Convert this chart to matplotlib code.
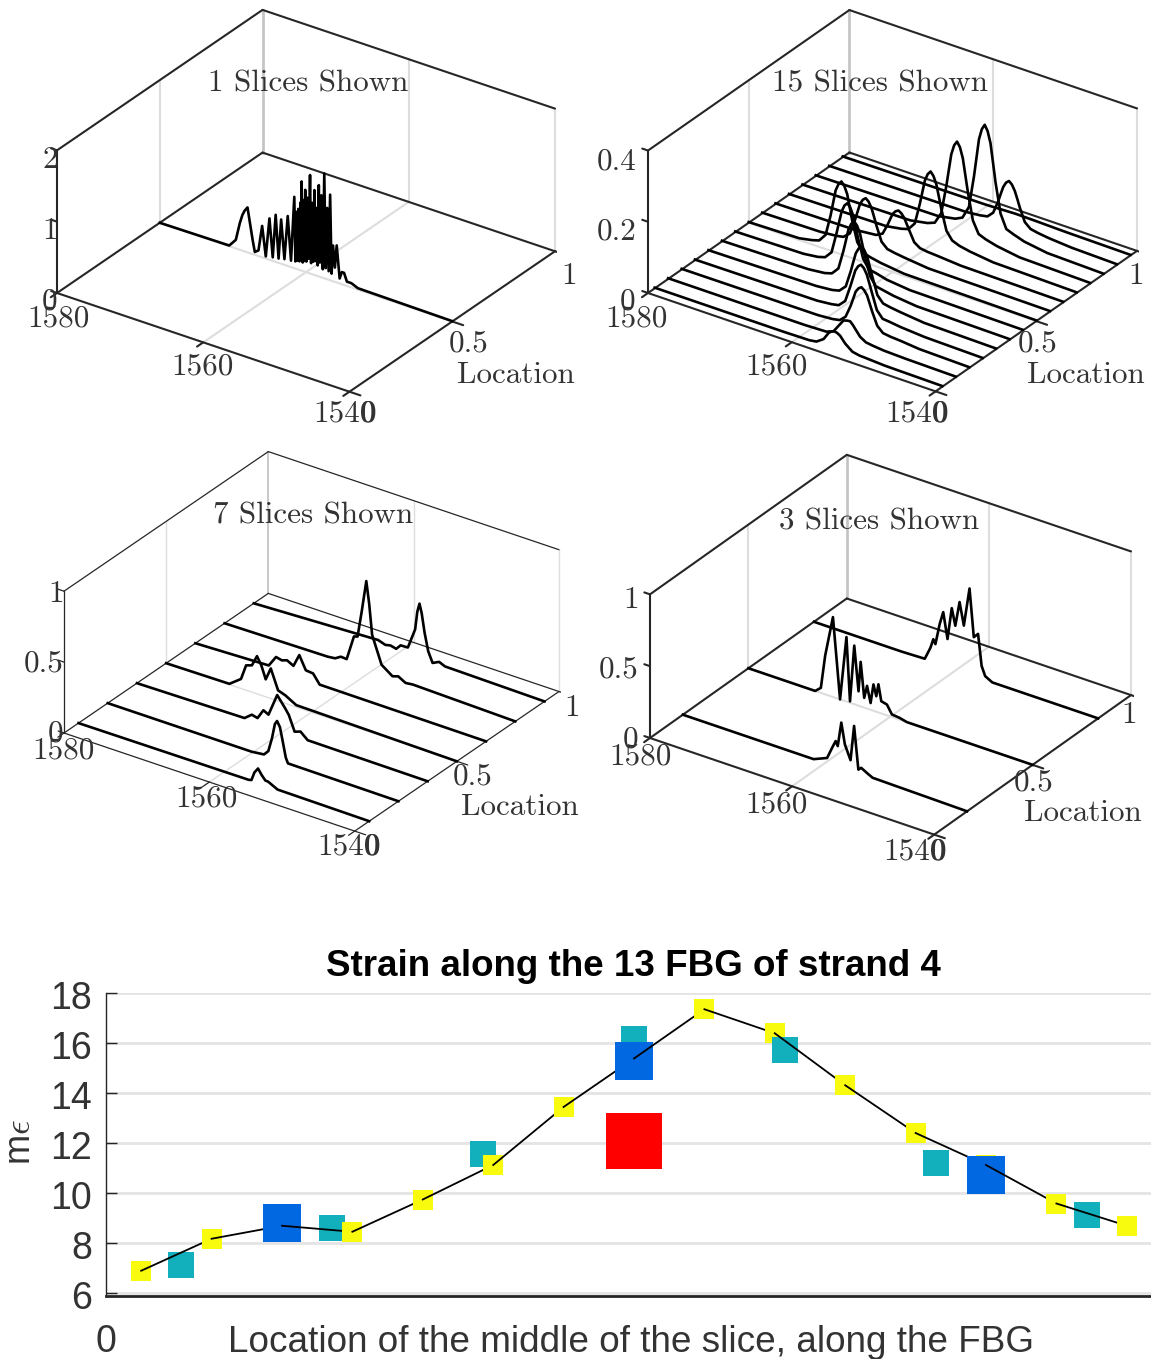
import numpy as np
import matplotlib
matplotlib.use('Agg')
import matplotlib.pyplot as plt
from matplotlib.transforms import ScaledTranslation
from mpl_toolkits.mplot3d import proj3d

W, H = 1151, 1359
DARK = '#262626'
TICK_TXT = '#333333'

# panel 1: 1 slice
LOCS_1 = [0.5]
WAVES_1 = [[1580, 1570.5, 1569.6, 1569.05, 1568.7, 1568.4, 1568, 1567.7, 1567.3, 1567, 1566.5, 1566, 1565.5, 1565, 1564.55,
            1564.15, 1563.75, 1563.4, 1562.95, 1562.5, 1562.05, 1561.6, 1561.45, 1561.3, 1561.15, 1561.05, 1560.9,
            1560.75, 1560.65, 1560.6, 1560.45, 1560.3, 1560.2, 1560.1, 1559.95, 1559.8, 1559.65, 1559.45, 1559.3,
            1559.15, 1559, 1558.85, 1558.7, 1558.55, 1558.4, 1558.25, 1558.1, 1557.9, 1557.7, 1557.5, 1557.3,
            1557.1, 1556.9, 1556.7, 1556.5, 1556.3, 1556.05, 1555.8, 1555.4, 1555.1, 1554.8, 1554.4, 1553.8, 1552.9, 1540]]
AMPS_1 = [[0.0, 0.01, 0.12, 0.375, 0.5, 0.57, 0.63, 0.445, 0.2, 0.04, 0.08, 0.44, 0.03, 0.58, 0.05,
           0.66, 0.06, 0.62, 0.08, 0.70, 0.09, 1.0, 0.1, 0.8, 0.12, 0.85, 0.12,
           0.95, 0.15, 1.25, 0.12, 1.0, 0.15, 1.15, 0.15, 1.05, 0.2, 1.38, 0.15,
           1.0, 0.18, 1.19, 0.2, 0.95, 0.15, 1.28, 0.2, 1.15, 0.12, 1.47, 0.15,
           1.0, 0.12, 1.2, 0.1, 0.5, 0.2, 0.52, 0.07, 0.17, 0.17, 0.06, 0.06, 0.02, 0.005]]

# panel 2: 15 slices
LOCS_2 = [0.033, 0.1, 0.167, 0.233, 0.3, 0.367, 0.433, 0.5, 0.567, 0.633, 0.7, 0.767, 0.833, 0.9, 0.967]
WAVES_2 = [
    [1580, 1562, 1558.5, 1557.5, 1556.5, 1555.8, 1555.4, 1555, 1554.6, 1554.2, 1553.5, 1552.5, 1551.5, 1550.5, 1548, 1540],
    [1580, 1561, 1558, 1557, 1556.2, 1555.6, 1555.1, 1554.7, 1554.3, 1554, 1553.3, 1552.5, 1551.5, 1550, 1547, 1540],
    [1580, 1561, 1559, 1558, 1557.2, 1556.5, 1556.15, 1555.8, 1555.4, 1555, 1554.6, 1554.2, 1553.85, 1553.5, 1552.8, 1552, 1551, 1549.5, 1547, 1540],
    [1580, 1563, 1561, 1560, 1559.1, 1558.4, 1558.05, 1557.7, 1557.3, 1556.9, 1556.5, 1556.1, 1555.75, 1555.4, 1554.7, 1553.9, 1552.9, 1551.4, 1548, 1540],
    [1580, 1565, 1562.8, 1561.8, 1560.9, 1560.2, 1559.85, 1559.5, 1559.1, 1558.7, 1558.3, 1557.9, 1557.55, 1557.2, 1556.5, 1555.7, 1554.7, 1553.2, 1550, 1540],
    [1580, 1568, 1565.7, 1564.7, 1563.8, 1563.1, 1562.75, 1562.4, 1562, 1561.6, 1561.2, 1560.8, 1560.45, 1560.1, 1559.4, 1558.6, 1557.6, 1556.1, 1552.9, 1540],
    [1580, 1570.5, 1568.5, 1567.5, 1566.6, 1565.9, 1565.55, 1565.2, 1564.8, 1564.4, 1564, 1563.6, 1563.25, 1562.9, 1562.2, 1561.4, 1560.4, 1558.9, 1555.7, 1540],
    [1580, 1573, 1571.2, 1570.2, 1569.3, 1568.6, 1568.25, 1567.9, 1567.5, 1567.1, 1566.7, 1566.3, 1565.95, 1565.6, 1564.9, 1564.1, 1563.1, 1561.6, 1558.4, 1540],
    [1580, 1572, 1569.7, 1568.7, 1567.8, 1567.1, 1566.75, 1566.4, 1566, 1565.6, 1565.2, 1564.8, 1564.45, 1564.1, 1563.4, 1562.6, 1561.6, 1560.1, 1556.9, 1540],
    [1580, 1569, 1567, 1566, 1565.1, 1564.4, 1564.05, 1563.7, 1563.3, 1562.9, 1562.5, 1562.1, 1561.75, 1561.4, 1560.7, 1559.9, 1558.9, 1557.4, 1554.2, 1540],
    [1580, 1566.5, 1564.4, 1563.4, 1562.5, 1561.8, 1561.45, 1561.1, 1560.7, 1560.3, 1559.9, 1559.5, 1559.15, 1558.8, 1558.1, 1557.3, 1556.3, 1554.8, 1551.6, 1540],
    [1580, 1565, 1562.6, 1561.6, 1560.7, 1560, 1559.65, 1559.3, 1558.9, 1558.5, 1558.1, 1557.7, 1557.35, 1557, 1556.3, 1555.5, 1554.5, 1553, 1549.8, 1540],
    [1580, 1563, 1560.6, 1559.6, 1558.7, 1558, 1557.65, 1557.3, 1556.9, 1556.5, 1556.1, 1555.7, 1555.35, 1555, 1554.3, 1553.5, 1552.5, 1551, 1547.8, 1540],
    [1580, 1561, 1559, 1558, 1557.2, 1556.5, 1556.15, 1555.8, 1555.4, 1555, 1554.6, 1554.2, 1553.85, 1553.5, 1552.8, 1552, 1551, 1549.5, 1546.3, 1540],
    [1580, 1560, 1556, 1553, 1549, 1540],
]
AMPS_2 = [
    [.002, .002, .003, .006, .02, .042, .049, .052, .05, .045, .028, .012, .008, .007, .004, .002],
    [.002, .002, .004, .012, .035, .052, .055, .056, .048, .04, .022, .012, .009, .006, .004, .002],
    [.002, .003, .006, .01, .025, .06, .082, .105, .117, .123, .117, .105, .085, .065, .03, .015, .012, .01, .005, .002],
    [.002, .004, .008, .012, .03, .075, .1, .125, .14, .147, .14, .125, .103, .08, .035, .016, .014, .01, .005, .002],
    [.002, .005, .009, .014, .032, .08, .108, .135, .151, .159, .151, .135, .11, .085, .038, .02, .016, .012, .005, .002],
    [.002, .005, .01, .016, .036, .09, .122, .155, .174, .183, .174, .155, .125, .095, .045, .022, .018, .012, .005, .002],
    [.002, .005, .01, .016, .036, .095, .128, .16, .18, .189, .18, .16, .13, .1, .048, .024, .02, .012, .005, .002],
    [.002, .005, .012, .018, .04, .1, .138, .175, .195, .205, .195, .175, .14, .105, .05, .026, .02, .014, .006, .002],
    [.002, .004, .008, .012, .028, .07, .095, .12, .135, .142, .135, .12, .098, .075, .035, .02, .016, .012, .005, .002],
    [.002, .004, .008, .01, .02, .05, .068, .085, .095, .10, .095, .085, .07, .055, .026, .015, .012, .01, .005, .002],
    [.002, .005, .012, .018, .04, .1, .135, .17, .191, .201, .191, .17, .138, .105, .05, .028, .02, .014, .006, .002],
    [.002, .005, .014, .022, .055, .135, .183, .23, .258, .271, .258, .23, .185, .14, .065, .032, .024, .016, .006, .002],
    [.002, .005, .014, .024, .06, .15, .205, .26, .291, .306, .291, .26, .208, .155, .072, .034, .026, .016, .006, .002],
    [.002, .004, .008, .012, .028, .065, .088, .11, .125, .132, .125, .11, .09, .068, .032, .018, .014, .01, .005, .002],
    [.002, .004, .007, .006, .004, .002],
]

# panel 3: 7 slices
LOCS_3 = [0.071, 0.214, 0.357, 0.5, 0.643, 0.786, 0.929]
WAVES_3 = [
    [1580, 1556.6, 1556.2, 1555.8, 1555.3, 1554.8, 1554.3, 1553.9, 1553.2, 1552.6, 1540],
    [1580, 1560.2, 1558.5, 1557.9, 1557.4, 1557, 1556.7, 1556.3, 1556, 1555.5, 1555.2, 1540],
    [1580, 1565.2, 1564.2, 1563.4, 1562.6, 1561.9, 1560.7, 1559.6, 1559.1, 1558.3, 1557.5, 1556.5, 1540],
    [1580, 1571.3, 1569.7, 1569, 1568.2, 1567.5, 1566.9, 1566.3, 1565.6, 1564.6, 1563.6, 1562.1, 1540],
    [1580, 1569.9, 1568.9, 1568.1, 1567.4, 1566.5, 1565.7, 1564.8, 1563.8, 1562.9, 1540],
    [1580, 1565.8, 1564.8, 1564, 1563.2, 1562.2, 1561.7, 1561.1, 1560.5, 1560.1, 1559.7, 1558.4, 1556.9,
     1556.1, 1555.1, 1554.1, 1540],
    [1580, 1562.9, 1561.9, 1561.2, 1560.4, 1559.8, 1558.8, 1557.8, 1557.5, 1557.2, 1556.9, 1556.5, 1556,
     1555.4, 1554.5, 1553.7, 1540],
]
AMPS_3 = [
    [0, .005, .01, .07, .107, .07, .04, .038, .02, .005, 0],
    [0, 0, .01, .044, .143, .25, .277, .24, .167, .04, .004, 0],
    [0, .01, .051, .041, .11, .091, .25, .175, .137, .033, .048, .004, 0],
    [0, .005, .067, .175, .189, .266, .211, .123, .212, .075, .057, .014, 0],
    [0, .018, .095, .085, .098, .074, .164, .072, .067, .004, 0],
    [0, .01, .016, .041, .038, .215, .223, .42, .635, .48, .27, .081, .026, .039, .01, .016, 0],
    [0, .037, .02, .028, .018, .053, .055, .2, .33, .392, .33, .2, .077, .005, .028, .01, 0],
]

# panel 4: 3 slices
LOCS_4 = [0.167, 0.5, 0.833]
WAVES_4 = [
    [1580, 1561.6, 1559.7, 1559, 1558.5, 1558.2, 1557.7, 1557.2, 1556.4, 1555.9, 1555.3, 1554.9, 1554.1, 1553.3, 1540],
    [1580, 1570.6, 1569.8, 1569.2, 1568.1, 1567.1, 1566.2, 1565.7, 1565.1, 1564.5, 1564.2, 1563.7, 1563.3, 1562.8,
     1562.4, 1562, 1561.7, 1561.3, 1560.5, 1559.8, 1558.7, 1557.7, 1540],
    [1580, 1567.7, 1564.4, 1563.6, 1563.2, 1562.9, 1562.3, 1561.8, 1561.2, 1560.6, 1560.1, 1559.5, 1558.9, 1558.1,
     1557.5, 1556.9, 1556.4, 1555.9, 1554.9, 1540],
]
AMPS_4 = [
    [0, 0, .04, .122, .178, .148, .32, .177, .08, .327, .033, .052, .03, .01, 0],
    [0, 0, .035, .268, .556, 0, .449, .01, .408, .1, .31, .068, .158, .047,
     .183, .108, .196, .085, .075, .018, .012, 0, 0],
    [0, 0, .005, .095, .161, .132, .282, .373, .196, .421, .307, .482, .328, .6,
     .271, .304, .09, .027, 0, 0],
]

# bottom panel
YELLOW_X = [0.0333, 0.1, 0.1667, 0.2333, 0.3, 0.3667, 0.4333, 0.5, 0.5667, 0.6333, 0.7, 0.7667, 0.8333, 0.9, 0.9667]
YELLOW_Y = [6.89, 8.17, 8.69, 8.45, 9.74, 11.12, 13.44, 15.38, 17.35, 16.39, 14.31, 12.40, 11.12, 9.58, 8.69]
TEAL_X = [0.0714, 0.2143, 0.3571, 0.5, 0.6429, 0.7857, 0.9286]
TEAL_Y = [7.13, 8.61, 11.56, 16.15, 15.71, 11.2, 9.13]
BLUE_X = [0.1667, 0.5, 0.8333]
BLUE_Y = [8.79, 15.30, 10.71]
RED_X = [0.5]
RED_Y = [12.07]
STRAIN_TICKS = [6, 8, 10, 12, 14, 16, 18]

fig = plt.figure(figsize=(W / 100, H / 100), dpi=100, facecolor='white')


def put(x, y, s, size=22.4, family='cmr10', color=TICK_TXT, **kw):
    fig.text(x / W, 1 - y / H, s, fontsize=size, family=family, color=color, ha='center', va='center', **kw)


def fit_panel(ax, left, right, front_y):
    # scale and shift the square 3d axes so the floor corners land on given pixels
    pts = np.array([[1580, 0, 0], [1540, 1, 0]], dtype=float)

    def measure():
        ax.apply_aspect()
        xs, ys, _ = proj3d.proj_transform(pts[:, 0], pts[:, 1], pts[:, 2], ax.get_proj())
        return ax.transData.transform(np.column_stack([xs, ys]))

    side = 600.0
    ax.set_position([0, 0, side / W, side / H])
    p = measure()
    side = side * (right - left) / (p[1, 0] - p[0, 0])
    ax.set_position([0, 0, side / W, side / H])
    p = measure()
    x0 = left - p[0, 0]
    y0 = (H - front_y) - p[0, 1]
    ax.set_position([x0 / W, y0 / H, side / W, side / H])


def panel(left, right, front_y, view, waves, amps, locs, zticks, zlabels, title, labels,
          box_lw=1.5, grid_lw=1.5, line_lw=1.9):
    ax = fig.add_subplot(projection='3d')
    ax.set_proj_type('ortho')
    ax.view_init(elev=view[0], azim=view[1])
    ax.set_box_aspect((1, 1, view[2]))
    zmax = zticks[-1]
    ax.set_xlim(1580, 1540, view_margin=0)
    ax.set_ylim(0, 1, view_margin=0)
    ax.set_zlim(0, zmax, view_margin=0)
    ax.set_axis_off()
    ax.patch.set_alpha(0)
    ax.computed_zorder = False
    fit_panel(ax, left, right, front_y)

    # light grid
    g = dict(color='#dddddd', lw=grid_lw, zorder=1)
    ax.plot([1560, 1560], [0, 1], [0, 0], **g)
    ax.plot([1580, 1540], [0.5, 0.5], [0, 0], **g)
    ax.plot([1580, 1580], [0.5, 0.5], [0, zmax], **g)
    ax.plot([1560, 1560], [1, 1], [0, zmax], **g)
    ax.plot([1540, 1540], [1, 1], [0, zmax], **g)
    ax.plot([1580, 1580], [1, 1], [0, zmax], color='#c4c4c4', lw=grid_lw * 1.3, zorder=1)

    # box edges and tick stubs
    b = dict(color=DARK, lw=box_lw, zorder=2, solid_capstyle='round')
    ax.plot([1580, 1540], [0, 0], [0, 0], **b)
    ax.plot([1540, 1540], [0, 1], [0, 0], **b)
    ax.plot([1580, 1540], [1, 1], [0, 0], **b)
    ax.plot([1580, 1580], [0, 1], [0, 0], **b)
    ax.plot([1580, 1580], [0, 0], [0, zmax], **b)
    ax.plot([1580, 1580], [0, 1], [zmax, zmax], **b)
    ax.plot([1580, 1540], [1, 1], [zmax, zmax], **b)
    for w in [1580, 1560, 1540]:
        ax.plot([w, w], [0, -0.03], [0, 0], **b)
    for loc in [0, 0.5, 1]:
        ax.plot([1540, 1538.5], [loc, loc], [0, 0], **b)
    for z in zticks:
        ax.plot([1580, 1580.8], [0, 0], [z, z], **b)

    # spectra, back to front
    for k in range(len(locs) - 1, -1, -1):
        ys = [locs[k]] * len(waves[k])
        ax.plot(waves[k], ys, amps[k], color='black', lw=line_lw, zorder=3, solid_joinstyle='round')

    for (x, y), s in zip(zlabels, [str(t) for t in zticks]):
        put(x, y, s)
    for x, y, s in labels:
        put(x, y, s)
    put(title[0], title[1], title[2])


panel(57, 555, 293, (28.7, -54.9, 0.455), WAVES_1, AMPS_1, LOCS_1, [0, 1, 2], [(50, 302), (50, 231), (50, 160)],
      (308, 84, '1 Slices Shown'),
      [(59, 319, '1580'), (202, 367, '1560'), (345, 414, '1540'), (369, 414, '0'), (469, 344, '0.5'),
       (569, 276, '1'), (516, 375, 'Location')])
panel(648, 1137, 293, (29.24, -55.0, 0.465), WAVES_2, AMPS_2, LOCS_2, [0, 0.2, 0.4], [(628, 302), (617, 232), (617, 162)],
      (880, 84, '15 Slices Shown'),
      [(636, 319, '1580'), (776, 367, '1560'), (916, 414, '1540'), (941, 414, '0'), (1038, 344, '0.5'),
       (1136, 276, '1'), (1086, 375, 'Location')])
panel(64, 559, 733, (28.7, -54.9, 0.455), WAVES_3, AMPS_3, LOCS_3, [0, 0.5, 1], [(56, 734), (44, 664), (56, 594)],
      (313, 516, '7 Slices Shown'),
      [(64, 751, '1580'), (207, 799, '1560'), (349, 847, '1540'), (373, 847, '0'), (473, 777, '0.5'),
       (572, 708, '1'), (520, 807, 'Location')], box_lw=0.9, grid_lw=1.0)
panel(650, 1131, 738, (29.4, -55.3, 0.477), WAVES_4, AMPS_4, LOCS_4, [0, 0.5, 1], [(631, 740), (619, 670), (631, 600)],
      (879, 522, '3 Slices Shown'),
      [(640, 757, '1580'), (777, 805, '1560'), (914, 852, '1540'), (939, 852, '0'), (1034, 783, '0.5'),
       (1129, 715, '1'), (1083, 813, 'Location')])

# bottom strain plot
ax = fig.add_axes([106 / W, 1 - 1296 / H, (W - 106) / W, (1296 - 993) / H])
ax.set_xlim(0, 0.9896)
ax.set_ylim(5.88, 18)
ax.set_yticks(STRAIN_TICKS)
ax.set_xticks([0])
ax.set_axisbelow(True)
ax.grid(axis='y', color='#e4e4e4', lw=2.0, zorder=0)
ax.tick_params(axis='y', direction='in', length=8, width=1, color=DARK, labelcolor=TICK_TXT, labelsize=27, pad=10)
ax.tick_params(axis='x', length=0, labelcolor=TICK_TXT, labelsize=27, pad=20)
for lbl in ax.get_xticklabels() + ax.get_yticklabels():
    lbl.set_family('Liberation Sans')
nudge = ScaledTranslation(0, -1.5 / 72, fig.dpi_scale_trans)
for lbl in ax.get_yticklabels():
    lbl.set_transform(lbl.get_transform() + nudge)
for side in ['top', 'right']:
    ax.spines[side].set_visible(False)
ax.spines['left'].set_linewidth(1.0)
ax.spines['left'].set_color(DARK)
ax.spines['bottom'].set_linewidth(2.0)
ax.spines['bottom'].set_color(DARK)


def zo(x, level=0.0):
    # later along x means drawn later
    return 2 + x * 10 + level


for x, y in zip(RED_X, RED_Y):
    ax.scatter([x], [y], s=1684, marker='s', color='#ff0000', linewidths=0, zorder=zo(x, 0.001))
for x, y in zip(TEAL_X, TEAL_Y):
    ax.scatter([x], [y], s=350, marker='s', color='#11b0bc', linewidths=0, zorder=zo(x, 0.002))
for x, y in zip(YELLOW_X, YELLOW_Y):
    ax.scatter([x], [y], s=207, marker='s', color='#f9fb0e', linewidths=0, zorder=zo(x, 0.003))
for x, y in zip(BLUE_X, BLUE_Y):
    ax.scatter([x], [y], s=710, marker='s', color='#0168e1', linewidths=0, zorder=zo(x, 0.004))
for i in range(len(YELLOW_X) - 1):
    ax.plot(YELLOW_X[i:i + 2], YELLOW_Y[i:i + 2], color='black', lw=1.3, zorder=zo(YELLOW_X[i + 1], -0.01))

put(633, 967, 'Strain along the 13 FBG of strand 4', size=26.5, family='Liberation Sans', color='black', fontweight='bold')
put(631, 1342, 'Location of the middle of the slice, along the FBG', size=26.6, family='Liberation Sans')
put(21, 1142, 'm$\\epsilon$', size=26, family='Liberation Sans', rotation=90, math_fontfamily='cm')

fig.savefig('out.png', dpi=100)
